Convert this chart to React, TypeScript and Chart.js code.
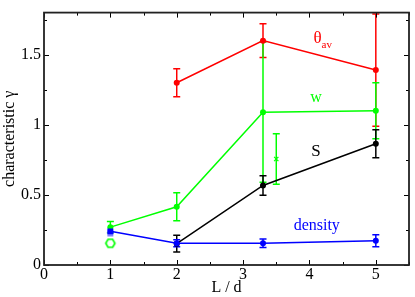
import React, { useEffect, useRef } from 'react';
import { Chart, registerables } from 'chart.js';
Chart.register(...registerables);

// ---- data ----
const xTicks = [0, 1, 2, 3, 4, 5];
const yTicks = [0, 0.5, 1, 1.5];

const xTheta = [2, 3.3, 5];
const thetaAv = [1.3, 1.6, 1.39];
const thetaErr = [0.1, 0.12, 0.4];

const xW = [1, 2, 3.3, 5];
const wVals = [0.27, 0.415, 1.09, 1.1];
const wErr = [0.04, 0.1, 0.5, 0.2];

const xS = [2, 3.3, 5];
const sVals = [0.152, 0.567, 0.865];
const sErr = [0.06, 0.07, 0.1];

const xDensity = [1, 2, 3.3, 5];
const densityVals = [0.24, 0.155, 0.155, 0.173];
const densityErr = [0, 0.025, 0.03, 0.043];

const xCross = [3.5];
const crossVals = [0.756];
const crossErr = [0.18];

const xHex = [1];
const hexVals = [0.155];

const xLightSq = [1];
const lightSqVals = [0.225];

const FONT = "'Liberation Serif', 'Times New Roman', serif";
const RED = '#ff0000';
const GREEN = '#00ff00';
const BLUE = '#0000ff';
const BLACK = '#000000';

const pts = (xs: number[], ys: number[]) => xs.map((x, i) => ({ x, y: ys[i] }));

function makeHexagon(): HTMLCanvasElement {
  const c = document.createElement('canvas');
  c.width = 14;
  c.height = 14;
  const g = c.getContext('2d')!;
  g.strokeStyle = GREEN;
  g.lineWidth = 1.6;
  g.beginPath();
  for (let i = 0; i < 6; i++) {
    const a = (Math.PI / 3) * i;
    const px = 7 + 4.6 * Math.cos(a);
    const py = 7 + 4.6 * Math.sin(a);
    if (i === 0) g.moveTo(px, py);
    else g.lineTo(px, py);
  }
  g.closePath();
  g.stroke();
  return c;
}

const errorBarPlugin = {
  id: 'errorBars',
  beforeDatasetsDraw(chart: any) {
    const { ctx, chartArea } = chart;
    const xs = chart.scales.x;
    const ys = chart.scales.y;
    ctx.save();
    ctx.beginPath();
    ctx.rect(chartArea.left, chartArea.top, chartArea.right - chartArea.left, chartArea.bottom - chartArea.top);
    ctx.clip();
    chart.data.datasets.forEach((ds: any) => {
      if (!ds.errors) return;
      ctx.strokeStyle = ds.borderColor;
      ctx.lineWidth = 1.5;
      ds.data.forEach((p: any, i: number) => {
        const e = ds.errors[i];
        if (!e) return;
        const px = xs.getPixelForValue(p.x);
        const yt = ys.getPixelForValue(p.y + e);
        const yb = ys.getPixelForValue(p.y - e);
        ctx.beginPath();
        ctx.moveTo(px, yt);
        ctx.lineTo(px, yb);
        ctx.moveTo(px - 3.5, yt);
        ctx.lineTo(px + 3.5, yt);
        ctx.moveTo(px - 3.5, yb);
        ctx.lineTo(px + 3.5, yb);
        ctx.stroke();
      });
    });
    ctx.restore();
  },
};

const framePlugin = {
  id: 'frameTicks',
  afterDraw(chart: any) {
    const { ctx, chartArea } = chart;
    const { left, right, top, bottom } = chartArea;
    const xs = chart.scales.x;
    const ys = chart.scales.y;
    ctx.save();
    ctx.strokeStyle = '#000';
    ctx.lineWidth = 1;
    for (let i = 0; i <= 11; i++) {
      const v = i * 0.5;
      const px = Math.round(xs.getPixelForValue(v)) + 0.5;
      const len = i % 2 === 0 ? 5 : 3;
      ctx.beginPath();
      ctx.moveTo(px, bottom);
      ctx.lineTo(px, bottom - len);
      ctx.moveTo(px, top);
      ctx.lineTo(px, top + len);
      ctx.stroke();
    }
    for (let i = 0; i <= 7; i++) {
      const v = i * 0.25;
      const py = Math.round(ys.getPixelForValue(v)) + 0.5;
      const len = i % 2 === 0 ? 5 : 3;
      ctx.beginPath();
      ctx.moveTo(left, py);
      ctx.lineTo(left + len, py);
      ctx.moveTo(right, py);
      ctx.lineTo(right - len, py);
      ctx.stroke();
    }
    ctx.lineWidth = 1.8;
    ctx.strokeStyle = '#222';
    ctx.strokeRect(left, top, right - left, bottom - top);

    // series labels
    const X = (v: number) => xs.getPixelForValue(v);
    const Y = (v: number) => ys.getPixelForValue(v);
    ctx.textBaseline = 'alphabetic';
    ctx.textAlign = 'left';
    ctx.fillStyle = RED;
    ctx.font = `17px ${FONT}`;
    const tx = X(4.06);
    const ty = Y(1.58);
    ctx.fillText('θ', tx, ty);
    const tw = ctx.measureText('θ').width;
    ctx.font = `11px ${FONT}`;
    ctx.fillText('av', tx + tw, ty + 5);

    ctx.textAlign = 'center';
    ctx.fillStyle = GREEN;
    ctx.font = `16px ${FONT}`;
    ctx.fillText('w', X(4.1), Y(1.165));
    ctx.fillStyle = BLACK;
    ctx.font = `17px ${FONT}`;
    ctx.fillText('S', X(4.1), Y(0.78));
    ctx.fillStyle = BLUE;
    ctx.font = `16px ${FONT}`;
    ctx.fillText('density', X(4.11), Y(0.25));
    ctx.restore();
  },
};

export default function App() {
  const ref = useRef<HTMLCanvasElement | null>(null);
  useEffect(() => {
    if (!ref.current) return;
    const hex = makeHexagon();
    const line = (label: string, xs: number[], ys: number[], errs: number[], color: string, order: number) => ({
      label,
      data: pts(xs, ys),
      errors: errs,
      showLine: true,
      borderColor: color,
      backgroundColor: color,
      borderWidth: 1.5,
      pointRadius: 3,
      pointBorderWidth: 0,
      order,
    });
    const chart = new Chart(ref.current, {
      type: 'scatter',
      data: {
        datasets: [
          {
            label: 'lightsq',
            data: pts(xLightSq, lightSqVals),
            showLine: false,
            pointStyle: 'rect',
            pointRadius: 4.2,
            backgroundColor: '#8080ff',
            borderColor: '#8080ff',
            borderWidth: 0,
            order: 10,
          },
          line('theta', xTheta, thetaAv, thetaErr, RED, 1),
          line('w', xW, wVals, wErr, GREEN, 3),
          line('S', xS, sVals, sErr, BLACK, 4),
          {
            ...line('density', xDensity, densityVals, densityErr, BLUE, 2),
            pointRadius: [4.2, 3, 3, 3],
            pointStyle: ['rect', 'circle', 'circle', 'circle'],
          },
          {
            label: 'cross',
            data: pts(xCross, crossVals),
            errors: crossErr,
            showLine: false,
            borderColor: GREEN,
            backgroundColor: GREEN,
            pointStyle: 'crossRot',
            pointRadius: 3,
            pointBorderWidth: 1.3,
            order: 5,
          },
          {
            label: 'hex',
            data: pts(xHex, hexVals),
            showLine: false,
            pointStyle: hex,
            pointRadius: 5,
            borderColor: GREEN,
            backgroundColor: GREEN,
            order: 6,
          },
        ],
      },
      options: {
        animation: false,
        responsive: false,
        maintainAspectRatio: false,
        layout: { padding: { top: 1, right: 1, left: 0, bottom: 0 } },
        plugins: {
          legend: { display: false },
          tooltip: { enabled: false },
        },
        scales: {
          x: {
            type: 'linear',
            min: 0,
            max: 5.5,
            grid: { display: false, drawTicks: false },
            border: { display: false },
            afterBuildTicks: (s: any) => {
              s.ticks = xTicks.map((v) => ({ value: v }));
            },
            afterFit: (s: any) => {
              s.height = 32;
            },
            ticks: {
              padding: 0,
              color: '#000',
              font: { family: FONT, size: 16 },
              callback: (v: any) => String(v),
            },
            title: {
              display: true,
              text: 'L / d',
              color: '#000',
              font: { family: FONT, size: 16 },
              padding: { top: 0, bottom: 0 },
            },
          },
          y: {
            type: 'linear',
            min: 0,
            max: 1.8,
            grid: { display: false, drawTicks: false },
            border: { display: false },
            afterBuildTicks: (s: any) => {
              s.ticks = yTicks.map((v) => ({ value: v }));
            },
            afterFit: (s: any) => {
              s.width = 44;
            },
            ticks: {
              padding: 3,
              color: '#000',
              font: { family: FONT, size: 16 },
              callback: (v: any) => String(v),
            },
            title: {
              display: true,
              text: 'characteristic γ',
              color: '#000',
              font: { family: FONT, size: 16 },
              padding: { top: 0, bottom: 0 },
            },
          },
        },
      },
      plugins: [errorBarPlugin, framePlugin],
    } as any);
    return () => chart.destroy();
  }, []);
  return (
    <div style={{ position: 'fixed', left: 0, top: 0, width: 415, height: 297, background: '#fff' }}>
      <canvas ref={ref} width={415} height={297} style={{ display: 'block' }} />
    </div>
  );
}
